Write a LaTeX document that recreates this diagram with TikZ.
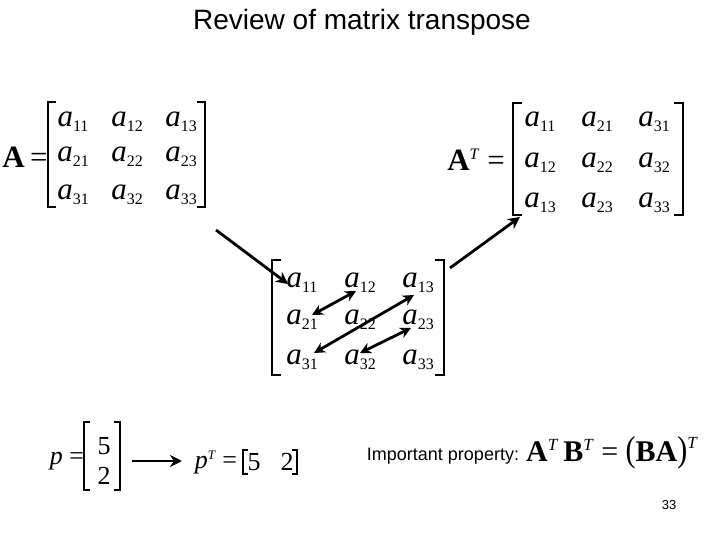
\documentclass[tikz,border=0pt]{standalone}
\usepackage{fontspec}
\usetikzlibrary{arrows.meta}
\setmainfont{Liberation Serif}
\newfontfamily\sans{Liberation Sans}
\newcommand{\ent}[1]{\textit{a}\raisebox{-5pt}{\fontsize{16}{16}\selectfont #1}}
\begin{document}
\begin{tikzpicture}[x=1pt,y=-1pt,
  e/.style={font=\fontsize{31}{31}\selectfont,inner sep=0pt},
  br/.style={line width=1.3pt},
  arr/.style={line width=2.8pt,-{Stealth[length=12pt,width=12pt]}},
  darr/.style={line width=2.8pt,{Stealth[length=11pt,width=11pt]}-{Stealth[length=11pt,width=11pt]}}]
\useasboundingbox (0,0) rectangle (720,540);
\node[font=\sans\fontsize{28}{28}\selectfont] (title) at (362,22) {Review of matrix transpose};
% A
\node[e] (A) at (25,157) {\textbf{A}\,=};
\foreach \r/\y in {1/122,2/157,3/195}{\foreach \c/\x in {1/73,2/127,3/181}{\node[e] (l\r\c) at (\x,\y) {\ent{\r\c}};}}
\draw[br] (56,102) -- (48,102) -- (48,207) -- (56,207);
\draw[br] (197,102) -- (205,102) -- (205,207) -- (197,207);
% AT
\node[e] (AT) at (476,160) {\textbf{A}\raisebox{11pt}{\fontsize{16}{16}\selectfont\textit{T}} =};
\foreach \r/\y in {1/122,2/163,3/203}{\foreach \c/\x in {1/540,2/597,3/654}{\node[e] (t\r\c) at (\x,\y) {\ent{\c\r}};}}
\draw[br] (522,103) -- (513,103) -- (513,215) -- (522,215);
\draw[br] (674,103) -- (683,103) -- (683,215) -- (674,215);
% middle
\foreach \r/\y in {1/283,2/320,3/360}{\foreach \c/\x in {1/302,2/360,3/418}{\node[e] (m\r\c) at (\x,\y) {\ent{\r\c}};}}
\draw[br] (281,260) -- (272,260) -- (272,375) -- (281,375);
\draw[br] (435,260) -- (444,260) -- (444,375) -- (435,375);
\coordinate (s1) at (216,230); \coordinate (e1) at (288,284);
\coordinate (s2) at (450,268); \coordinate (e2) at (520,217);
\draw[arr] (s1) -- (e1);
\draw[arr] (s2) -- (e2);
\coordinate (d1a) at (312,315); \coordinate (d1b) at (356,291);
\coordinate (d2a) at (314,353); \coordinate (d2b) at (414,295);
\coordinate (d3a) at (360,353); \coordinate (d3b) at (411,328);
\draw[darr] (d1a) -- (d1b);
\draw[darr] (d2a) -- (d2b);
\draw[darr] (d3a) -- (d3b);
% p
\node[e,font=\fontsize{26}{26}\selectfont] (p) at (67,461) {\textit{p} =};
\node[e,font=\fontsize{26}{26}\selectfont] (p1) at (104,446) {5};
\node[e,font=\fontsize{26}{26}\selectfont] (p2) at (104,476) {2};
\draw[br] (90,422) -- (84,422) -- (84,490) -- (90,490);
\draw[br] (114,422) -- (120,422) -- (120,490) -- (114,490);
\coordinate (pa) at (132,461); \coordinate (pb) at (182,461);
\draw[arr] (pa) -- (pb);
\node[e,font=\fontsize{26}{26}\selectfont] (pt) at (216,463) {\textit{p}\raisebox{9pt}{\fontsize{13}{13}\selectfont\textit{T}} =};
\node[e,font=\fontsize{26}{26}\selectfont] (pt1) at (254,462) {5};
\node[e,font=\fontsize{26}{26}\selectfont] (pt2) at (287,462) {2};
\draw[br] (248,450) -- (243,450) -- (243,474) -- (248,474);
\draw[br] (292,450) -- (297,450) -- (297,474) -- (292,474);
\node[font=\sans\fontsize{18}{18}\selectfont,inner sep=0pt] (imp) at (443,456) {Important property:};
\node[e,font=\fontsize{30}{30}\selectfont] (prop) at (612,453) {\textbf{A}\raisebox{11pt}{\fontsize{17}{17}\selectfont\textit{T}}\,\textbf{B}\raisebox{11pt}{\fontsize{17}{17}\selectfont\textit{T}} = \scalebox{1}[1.2]{(}\textbf{BA}\scalebox{1}[1.2]{)}\raisebox{13pt}{\fontsize{17}{17}\selectfont\textit{T}}};
\node[font=\sans\fontsize{13}{13}\selectfont,inner sep=0pt] (num) at (669,505) {33};
\end{tikzpicture}
\end{document}
